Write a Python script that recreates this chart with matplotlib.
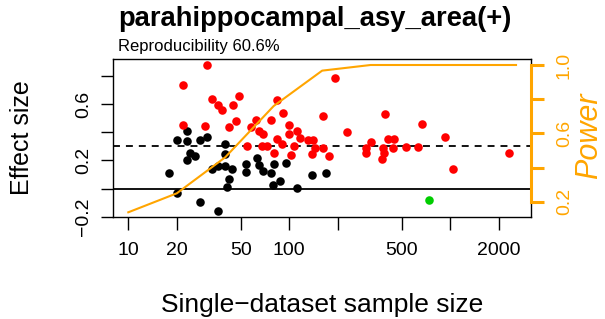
import matplotlib
matplotlib.use("Agg")
import matplotlib.pyplot as plt
import numpy as np

plt.rcParams['font.family'] = ['Liberation Sans', 'DejaVu Sans']
plt.rcParams['lines.scale_dashes'] = False

title = "parahippocampal_asy_area(+)"
subtitle = "Reproducibility 60.6%"
xlabel = "Single\u2212dataset sample size"
ylabel = "Effect size"
power_label = "Power"

# non-replicating (black) points: sample size, effect size
black_n = [18, 20, 20, 23, 23, 24, 23, 26, 28, 31, 28, 36, 33, 36, 40, 40, 40, 44, 42, 41,
           54, 54, 63, 65, 69, 77, 80, 88, 79, 95, 111, 139, 169]
black_es = [0.109, -0.032, 0.342, 0.407, 0.335, 0.25, 0.204, 0.231, 0.342, 0.368, -0.095, -0.158,
            0.141, 0.162, 0.317, 0.243, 0.158, 0.137, 0.070, 0.011,
            0.173, 0.114, 0.220, 0.165, 0.125, 0.108, 0.173, 0.055, 0.025, 0.180, 0.001, 0.095, 0.109]

# replicating (red) points
red_n = [31, 22, 33, 36, 38, 44.5, 49, 22, 30, 42, 46.5, 62, 58, 55, 65, 69, 68, 73, 77, 84,
         84, 80, 90, 92, 99, 100, 103, 111, 107, 116, 131, 141, 139, 145, 163, 163, 177, 192, 228,
         395, 667, 320, 301, 301, 410, 447, 384, 387, 375, 443, 529, 630, 924, 1032, 2306]
red_es = [0.877, 0.736, 0.635, 0.595, 0.560, 0.595, 0.658, 0.454, 0.447, 0.438, 0.477, 0.486,
          0.440, 0.301, 0.407, 0.389, 0.301, 0.301, 0.489, 0.630,
          0.349, 0.255, 0.313, 0.533, 0.454, 0.384, 0.236, 0.408, 0.299, 0.357, 0.342, 0.342,
          0.246, 0.290, 0.518, 0.290, 0.231, 0.783, 0.398,
          0.530, 0.461, 0.327, 0.289, 0.255, 0.349, 0.354, 0.290, 0.250, 0.206, 0.290, 0.292,
          0.292, 0.363, 0.135, 0.250]

# opposite-sign (green) point
green_n = [734]
green_es = [-0.079]

# power curve
power_n = [10, 20, 40, 80, 160, 320, 640, 1280, 2560]
power_val = [0.138, 0.249, 0.46, 0.76, 0.967, 1.0, 1.0, 1.0, 1.0]

ref_effect = 0.3

xticks = [10, 20, 50, 100, 200, 500, 1000, 2000]
xticklabels = ["10", "20", "50", "100", "", "500", "", "2000"]
yticks = [-0.2, 0.0, 0.2, 0.4, 0.6, 0.8]
yticklabels = ["\u22120.2", "", "0.2", "", "0.6", ""]
pticks = [0.2, 0.4, 0.6, 0.8, 1.0]
pticklabels = ["0.2", "", "0.6", "", "1.0"]

W, H = 605, 319
fig = plt.figure(figsize=(W / 100, H / 100), dpi=100)
L, R, T, B = 112.7, 531, 59.3, 216.7
ax = fig.add_axes([L / W, 1 - B / H, (R - L) / W, (B - T) / H])

ax.set_xscale('log')
ax.set_xlim(10 ** (1 + (L - 128.3) / 161), 10 ** (1 + (R - 128.3) / 161))
ax.set_ylim(-0.191, 0.917)

ax.axhline(0, color='black', lw=1.3, zorder=2)
ax.axhline(ref_effect, color='black', lw=1.3, dashes=(5, 4.3), zorder=2)

ms = 38
ax.scatter(black_n, black_es, s=ms, c='black', linewidths=0, zorder=3)
ax.scatter(red_n, red_es, s=ms, c='#FF0000', linewidths=0, zorder=3)
ax.scatter(green_n, green_es, s=ms, c='#00CD00', linewidths=0, zorder=3)

ax.set_xticks(xticks)
ax.set_xticklabels(xticklabels)
ax.xaxis.set_minor_locator(matplotlib.ticker.NullLocator())
ax.set_yticks(yticks)
ax.set_yticklabels(yticklabels, rotation=90, va='center')
ax.tick_params(axis='x', length=9, width=1, labelsize=14, pad=9)
ax.tick_params(axis='y', length=9, width=1, labelsize=14, pad=6)
for s in ax.spines.values():
    s.set_linewidth(1)

ax2 = ax.twinx()
ax2.set_ylim(0.2 - (B - 201.7) / 170.9, 1.0 + (65 - T) / 170.9)
ax2.plot(power_n, power_val, color='orange', lw=1.5, zorder=4)
ax2.set_yticks(pticks)
ax2.set_yticklabels(pticklabels, rotation=90, va='center', color='orange')
ax2.tick_params(axis='y', length=9, width=2.2, color='orange', labelsize=14, pad=9)
ax2.spines['right'].set_bounds(0.2, 1.0)
ax2.spines['right'].set_color('orange')
ax2.spines['right'].set_linewidth(2.2)
for k in ['top', 'left', 'bottom']:
    ax2.spines[k].set_visible(False)

fig.text(21.7 / W, 1 - 138 / H, ylabel, rotation=90, ha='center', va='center', fontsize=18)
fig.text(589 / W, 1 - 136 / H, power_label, rotation=90, ha='center', va='center',
         fontsize=22, style='italic', color='orange')
fig.text(322 / W, 1 - 305 / H, xlabel, ha='center', va='center', fontsize=19)
fig.text(315 / W, 1 - 26 / H, title, ha='center', va='baseline', fontsize=19.7, fontweight='bold')
fig.text(118 / W, 1 - 51.5 / H, subtitle, ha='left', va='baseline', fontsize=12)

fig.savefig('out.png', dpi=100)
